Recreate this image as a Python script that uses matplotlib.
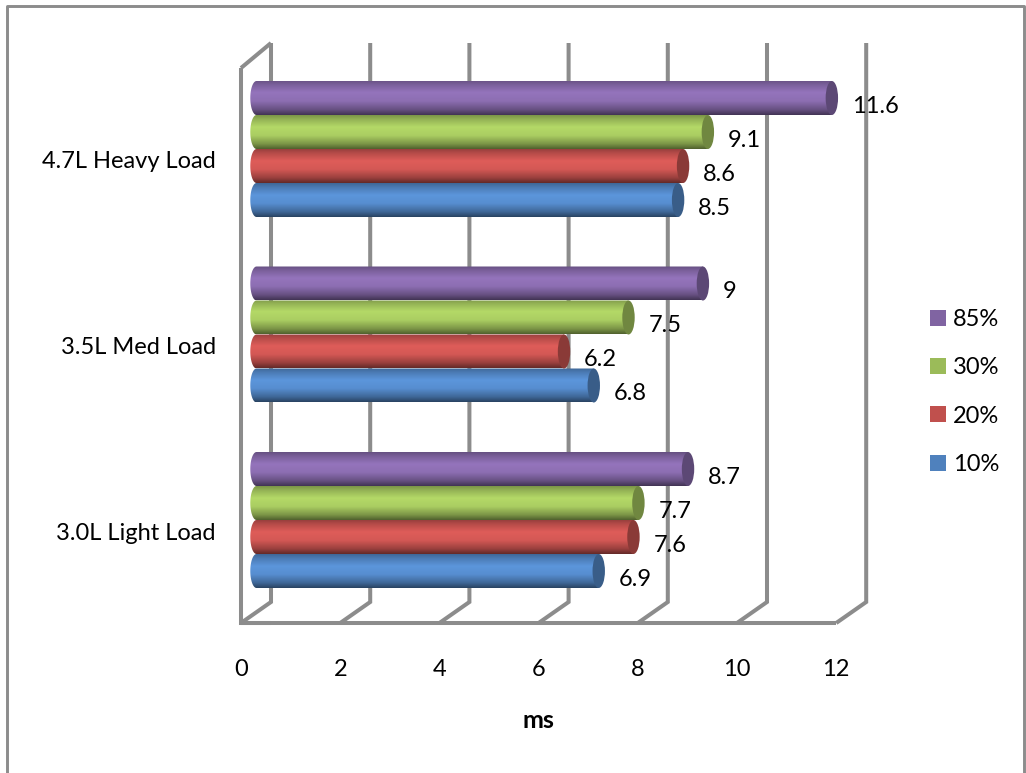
import matplotlib
matplotlib.use('Agg')
import matplotlib.pyplot as plt
import numpy as np
from matplotlib.lines import Line2D
from matplotlib.patches import Ellipse, Patch, PathPatch
from matplotlib.path import Path

plt.rcParams['font.family'] = ['Lato', 'DejaVu Sans']

categories = ['3.0L Light Load', '3.5L Med Load', '4.7L Heavy Load']
series_names = ['10%', '20%', '30%', '85%']
colors = ['#4F81BD', '#C0504D', '#9BBB59', '#8064A2']
load_10 = [6.9, 6.8, 8.5]
load_20 = [7.6, 6.2, 8.6]
load_30 = [7.7, 7.5, 9.1]
load_85 = [8.7, 9.0, 11.6]
series_values = [load_10, load_20, load_30, load_85]
x_ticks = [0, 2, 4, 6, 8, 10, 12]

W, H = 1026, 773
PX_X = 49.6     # pixels per ms
PX_Y = 185.5    # pixels per category
GRID = '#8c8c8c'
FS = 17

fig = plt.figure(figsize=(W / 100, H / 100), dpi=100)
ax = fig.add_axes([0, 0, 1, 1])
ax.axis('off')

# x=0 sits at pixel 241, first category centre at pixel row 520
xlim = (-241 / PX_X, (W - 241) / PX_X)
ylim = ((520 - H) / PX_Y, 520 / PX_Y)

# 3d box offsets
dx = 30 / PX_X
dy = 21 / PX_Y
y_floor = (520 - 623) / PX_Y
y_top = (520 - 43) / PX_Y
bar_h = 34 / PX_Y
depth = 15.5 / PX_X
cap_w = 6.2 / PX_X


def wall_line(xs, ys):
    ax.plot(xs, ys, color=GRID, lw=2.9, solid_capstyle='butt', solid_joinstyle='miter', zorder=1)


# gridlines on the back wall, running down and forward to the floor edge
for t in x_ticks:
    wall_line([t + dx, t + dx, t], [y_top, y_floor + dy, y_floor])
wall_line([0, 0, dx], [y_top - 25 / PX_Y, y_floor, y_floor])
wall_line([0, dx], [y_top - 25 / PX_Y, y_top])
wall_line([0, 12], [y_floor, y_floor])

# cylinder shading, top to bottom
stops = np.linspace(0, 1, 80)
shade = np.interp(stops, [0, 0.12, 0.35, 0.6, 0.85, 1], [0.8, 0.95, 1.16, 1.1, 0.8, 0.52])


def cylinder(value, y, color, z):
    rgb = np.array(matplotlib.colors.to_rgb(color))
    grad = np.clip(shade[:, None, None] * rgb[None, None, :], 0, 1)
    x0 = depth
    x1 = value + depth
    ym = y
    im = ax.imshow(grad, extent=(x0 - cap_w, x1, ym - bar_h / 2, ym + bar_h / 2),
                   aspect='auto', interpolation='bilinear', zorder=z)
    # rounded left end
    a = np.linspace(np.pi / 2, 3 * np.pi / 2, 30)
    verts = list(zip(x0 + cap_w * np.cos(a), ym + bar_h / 2 * np.sin(a)))
    verts += [(x1, ym - bar_h / 2), (x1, ym + bar_h / 2), verts[0]]
    codes = [Path.MOVETO] + [Path.LINETO] * (len(verts) - 2) + [Path.CLOSEPOLY]
    im.set_clip_path(PathPatch(Path(verts, codes), transform=ax.transData))
    cap = Ellipse((x1, ym), 2 * cap_w, bar_h, facecolor=rgb * 0.72, edgecolor='none', zorder=z + 0.1)
    ax.add_patch(cap)


for s, (vals, color) in enumerate(zip(series_values, colors)):
    for c, v in enumerate(vals):
        y = c + (1.5 - s) * -bar_h
        cylinder(v, y, color, 3 + s)
        ax.annotate(f'{v:g}', (v + depth + cap_w, y), xytext=(14, -8.5), textcoords='offset pixels',
                    ha='left', va='center', fontsize=FS, color='black', zorder=10)

for c, name in enumerate(categories):
    ax.text(-25 / PX_X, c - 13 / PX_Y, name, ha='right', va='center', fontsize=FS, color='black')

for t in x_ticks:
    ax.text(t, (520 - 669) / PX_Y, str(t), ha='center', va='center', fontsize=FS, color='black')

ax.text(6, (520 - 721) / PX_Y, 'ms', ha='center', va='center', fontsize=18, fontweight='bold', color='black')

handles = [Patch(facecolor=c, label=n) for c, n in zip(colors, series_names)][::-1]
ax.legend(handles=handles, loc='center left', bbox_to_anchor=(923 / W, 1 - 392 / H),
          bbox_transform=fig.transFigure, frameon=False, fontsize=FS, handlelength=0.66, handleheight=0.66,
          handletextpad=0.3, labelspacing=1.16, borderpad=0.3, borderaxespad=0)

ax.set_xlim(*xlim)
ax.set_ylim(*ylim)

# outer chart frame, open along the bottom
frame_x = [6.5 / W, 6.5 / W, 1023.5 / W, 1023.5 / W]
frame_y = [0, 1 - 5.5 / H, 1 - 5.5 / H, 0]
fig.add_artist(Line2D(frame_x, frame_y, color=GRID, lw=2.1, transform=fig.transFigure))

fig.savefig('out.png', dpi=100)
